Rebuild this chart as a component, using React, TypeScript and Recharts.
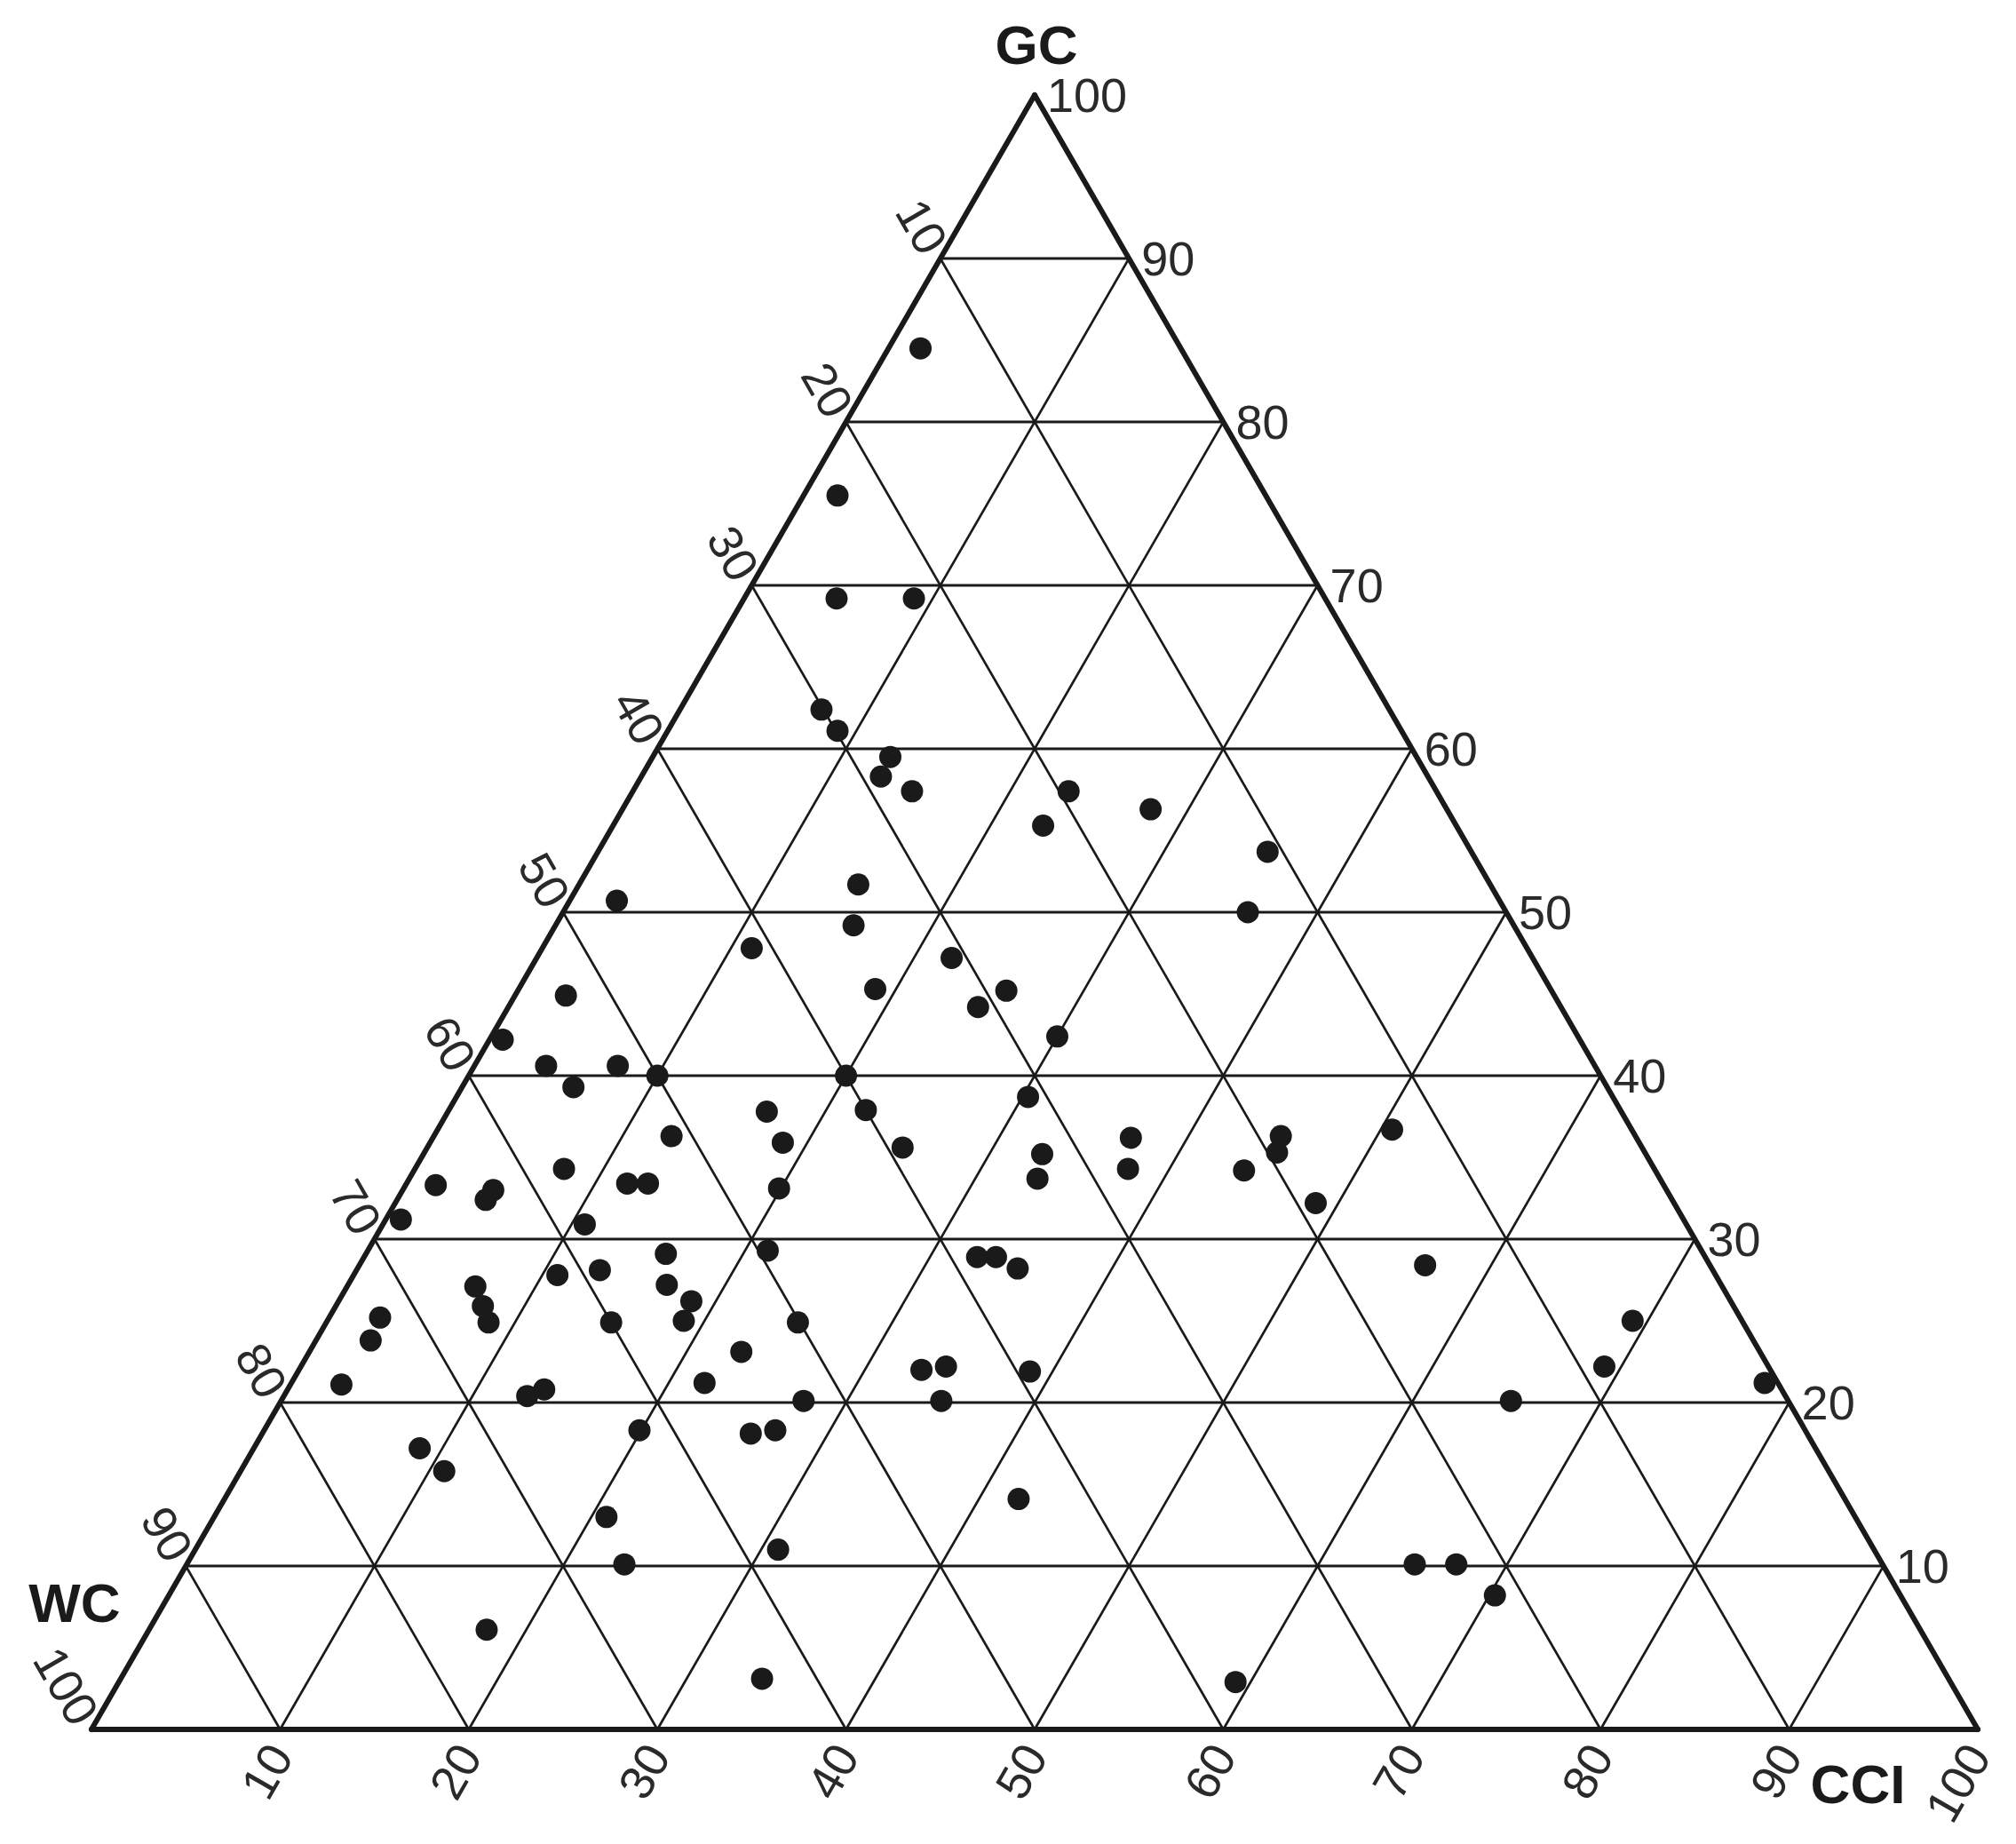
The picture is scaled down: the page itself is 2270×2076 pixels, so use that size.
import React from 'react';
import { ScatterChart, Scatter, XAxis, YAxis, ReferenceLine, ReferenceDot } from 'recharts';

// samples (percent)
const gcValues = [
    84.5, 75.5, 69.2, 69.2, 62.4, 61.1, 59.5, 58.3, 57.4, 57.4,
    55.3, 56.3, 53.7, 50.0, 50.7, 51.7, 49.2, 47.8, 47.2, 45.3,
    45.2, 44.2, 44.9, 42.2, 42.4, 40.6, 40.6, 40.0, 39.3, 40.0,
    38.7, 37.8, 37.9, 36.3, 35.9, 35.6, 36.2, 36.3, 35.3, 36.7,
    35.2, 34.3, 34.2, 33.7, 34.3, 33.4, 33.4, 33.1, 33.3, 33.0,
    32.4, 32.2, 31.2, 30.9, 29.3, 29.1, 28.9, 28.9, 28.2, 28.4,
    28.1, 27.8, 27.2, 27.1, 26.2, 25.9, 25.2, 24.9, 24.9, 25.0,
    24.9, 25.0, 23.8, 23.1, 22.0, 22.2, 21.9, 22.2, 21.1, 21.2,
    20.8, 20.4, 20.1, 20.1, 20.1, 21.2, 18.3, 18.1, 18.3, 17.2,
    15.8, 14.1, 13.0, 11.0, 10.1, 10.1, 10.1, 8.2, 6.1, 3.1,
    2.9,
];
const cciValues = [
    1.7, 1.8, 4.9, 9.0, 7.5, 9.0, 12.6, 12.7, 14.8, 23.1,
    22.8, 28.0, 35.5, 36.3, 2.5, 14.8, 15.8, 11.1, 22.0, 18.9,
    25.9, 24.9, 2.7, 0.7, 30.0, 3.8, 7.6, 10.0, 5.9, 20.0,
    30.3, 16.9, 22.1, 12.6, 18.7, 25.2, 37.0, 44.9, 45.2, 50.6,
    32.8, 37.8, 44.0, 33.3, 7.9, 11.7, 12.8, 19.9, 1.6, 4.8,
    4.7, 48.8, 0.8, 10.7, 21.2, 15.9, 32.5, 33.5, 35.0, 56.5,
    12.9, 10.8, 16.9, 6.8, 18.7, 7.8, 2.7, 8.6, 15.1, 18.9,
    25.0, 69.2, 2.9, 22.9, 33.0, 34.2, 38.8, 69.1, 2.7, 21.9,
    13.6, 12.9, 27.7, 35.0, 65.2, 78.1, 19.9, 25.9, 27.1, 8.8,
    10.8, 42.1, 20.8, 30.9, 23.2, 65.1, 67.3, 70.3, 17.9, 34.0,
    59.2,
];

const gridSteps = [10, 20, 30, 40, 50, 60, 70, 80, 90];
const tickValues = [10, 20, 30, 40, 50, 60, 70, 80, 90, 100];

const INK = '#1a1a1a';
const FONT = '"Liberation Sans", Arial, sans-serif';

// plot coords: y = GC, x = CCI + GC / 2 (plot box is sized so the triangle is equilateral)
const samples = gcValues.map((gc, i) => ({ x: cciValues[i] + gc / 2, y: gc }));

const gcTicks = tickValues.map((t) => ({ x: 100 - t / 2, y: t, label: String(t) }));
const wcTicks = tickValues.map((t) => ({ x: (100 - t) / 2, y: 100 - t, label: String(t) }));
const cciTicks = tickValues.map((t) => ({ x: t, y: 0, label: String(t) }));

const tickText = { fontFamily: FONT, fontSize: 54, fill: '#2a2a2a' };
const titleText = { fontFamily: FONT, fontSize: 62, fontWeight: 700, fill: INK };

const GcTick = (p: any) => (
    <text x={p.cx + 14} y={p.cy} dy="0.35em" textAnchor="start" {...tickText}>
        {p.payload.label}
    </text>
);

const WcTick = (p: any) => {
    const ax = p.cx - 6;
    const ay = p.cy - 10;
    return (
        <text x={ax} y={ay} dy="0.35em" textAnchor="end" transform={`rotate(60 ${ax} ${ay})`} {...tickText}>
            {p.payload.label}
        </text>
    );
};

const CciTick = (p: any) => {
    const ax = p.cx;
    const ay = p.cy + 21;
    return (
        <text x={ax} y={ay} dy="0.35em" textAnchor="end" transform={`rotate(-60 ${ax} ${ay})`} {...tickText}>
            {p.payload.label}
        </text>
    );
};

const Dot = (p: any) => <circle cx={p.cx} cy={p.cy} r={12.5} fill={INK} />;

const title = (name: string, dx: number, dy: number) => (p: any) => (
    <text x={p.cx + dx} y={p.cy + dy} dy="0.35em" textAnchor="middle" {...titleText}>
        {name}
    </text>
);

export default function App() {
    return (
        <div style={{ position: 'absolute', left: 0, top: 0, background: '#fff' }}>
            <ScatterChart width={2270} height={2076} margin={{ top: 107, right: 43, bottom: 129, left: 103 }}>
                <XAxis type="number" dataKey="x" domain={[0, 100]} hide />
                <YAxis type="number" dataKey="y" domain={[0, 100]} hide />

                {/* GC = const */}
                {gridSteps.map((g) => (
                    <ReferenceLine
                        key={`gc-${g}`}
                        segment={[{ x: g / 2, y: g }, { x: 100 - g / 2, y: g }]}
                        stroke={INK}
                        strokeWidth={3.2}
                        ifOverflow="visible"
                    />
                ))}
                {/* CCI = const */}
                {gridSteps.map((c) => (
                    <ReferenceLine
                        key={`cci-${c}`}
                        segment={[{ x: c, y: 0 }, { x: c + (100 - c) / 2, y: 100 - c }]}
                        stroke={INK}
                        strokeWidth={2.7}
                        ifOverflow="visible"
                    />
                ))}
                {/* WC = const */}
                {gridSteps.map((w) => (
                    <ReferenceLine
                        key={`wc-${w}`}
                        segment={[{ x: 100 - w, y: 0 }, { x: (100 - w) / 2, y: 100 - w }]}
                        stroke={INK}
                        strokeWidth={2.7}
                        ifOverflow="visible"
                    />
                ))}

                {/* outer triangle */}
                <ReferenceLine segment={[{ x: 0, y: 0 }, { x: 100, y: 0 }]} stroke={INK} strokeWidth={6} strokeLinecap="round" ifOverflow="visible" />
                <ReferenceLine segment={[{ x: 0, y: 0 }, { x: 50, y: 100 }]} stroke={INK} strokeWidth={6} strokeLinecap="round" ifOverflow="visible" />
                <ReferenceLine segment={[{ x: 100, y: 0 }, { x: 50, y: 100 }]} stroke={INK} strokeWidth={6} strokeLinecap="round" ifOverflow="visible" />

                <Scatter data={gcTicks} shape={GcTick} isAnimationActive={false} />
                <Scatter data={wcTicks} shape={WcTick} isAnimationActive={false} />
                <Scatter data={cciTicks} shape={CciTick} isAnimationActive={false} />

                <ReferenceDot x={50} y={100} r={0} ifOverflow="visible" shape={title('GC', 2, -57)} />
                <ReferenceDot x={0} y={0} r={0} ifOverflow="visible" shape={title('WC', -19, -143)} />
                <ReferenceDot x={100} y={0} r={0} ifOverflow="visible" shape={title('CCI', -135, 61)} />

                <Scatter data={samples} shape={Dot} isAnimationActive={false} />
            </ScatterChart>
        </div>
    );
}
